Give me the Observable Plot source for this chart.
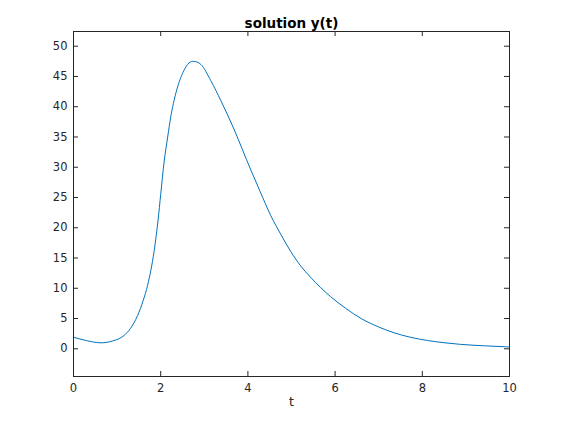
<!DOCTYPE html>
<html>
<head>
<meta charset="utf-8">
<script src="https://cdn.jsdelivr.net/npm/d3@7"></script>
<script src="https://cdn.jsdelivr.net/npm/@observablehq/plot@0.6"></script>
<style>
  html, body { margin: 0; padding: 0; background: #fff; }
  svg { display: block; }
</style>
</head>
<body>
<div id="chart"></div>
<script>
const tValues = [0, 0.3, 0.63, 0.9, 1.16, 1.3, 1.47, 1.6, 1.7, 1.85, 1.94, 2.0, 2.08, 2.16, 2.23, 2.35, 2.5, 2.62, 2.73, 2.83, 2.92, 3.15, 3.38, 3.65, 4.07, 4.28, 4.525, 4.755, 4.98, 5.21, 5.44, 5.67, 5.9, 6.24, 6.61, 7.0, 7.35, 7.7, 8.12, 8.5, 8.88, 9.4, 9.91, 10];
const yValues = [1.92, 1.35, 0.99, 1.3, 2.2, 3.3, 5.5, 8.0, 10.5, 16.2, 21.3, 25.5, 31.0, 35.0, 38.3, 42.3, 45.5, 47.0, 47.5, 47.4, 47.0, 44.3, 41.0, 36.8, 29.5, 26.0, 22.0, 18.9, 16.1, 13.7, 11.8, 10.1, 8.6, 6.7, 4.95, 3.6, 2.65, 1.95, 1.37, 1.0, 0.73, 0.5, 0.33, 0.31];
const xTicks = [0, 2, 4, 6, 8, 10];
const yTicks = [0, 5, 10, 15, 20, 25, 30, 35, 40, 45, 50];
const titleText = "solution y(t)";
const xLabel = "t";

const data = tValues.map((t, i) => ({t, y: yValues[i]}));

const W = 562, H = 422, mL = 73, mR = 53, mT = 31, mB = 46;
const pw = W - mL - mR, ph = H - mT - mB, tl = 5;
const ink = "#262626";

const chart = Plot.plot({
  width: W, height: H,
  marginLeft: mL, marginRight: mR, marginTop: mT, marginBottom: mB,
  style: {fontFamily: "DejaVu Sans", fontSize: "11.5px", color: ink, background: "#fff"},
  x: {domain: [0, 10]},
  y: {domain: [-4.58, 52.43]},
  marks: [
    Plot.line(data, {x: "t", y: "y", stroke: "#0072BD", strokeWidth: 1, curve: "monotone-x"}),
    Plot.frame({stroke: ink, strokeWidth: 1}),
    Plot.tickX(xTicks, {x: d => d, insetTop: ph - tl, stroke: ink}),
    Plot.tickX(xTicks, {x: d => d, insetBottom: ph - tl, stroke: ink}),
    Plot.tickY(yTicks, {y: d => d, insetRight: pw - tl, stroke: ink}),
    Plot.tickY(yTicks, {y: d => d, insetLeft: pw - tl, stroke: ink}),
    Plot.axisX({ticks: xTicks, tickSize: 0, tickPadding: 7, label: null, fill: ink, fontSize: 11.5}),
    Plot.axisY({ticks: yTicks, tickSize: 0, tickPadding: 6, label: null, fill: ink, fontSize: 11.5}),
    Plot.text([titleText], {text: d => d, frameAnchor: "top", dy: -13, fontWeight: "bold", fontSize: 13.5, fill: "#000"}),
    Plot.text([xLabel], {text: d => d, frameAnchor: "bottom", dy: 29, fontSize: 12.5, fill: ink})
  ]
});
document.getElementById("chart").appendChild(chart);
</script>
</body>
</html>
